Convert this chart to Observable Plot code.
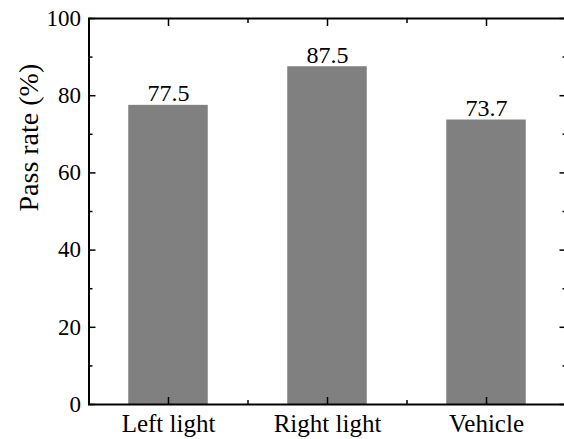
<!DOCTYPE html>
<html>
<head>
<meta charset="utf-8">
<script src="https://cdn.jsdelivr.net/npm/d3@7"></script>
<script src="https://cdn.jsdelivr.net/npm/@observablehq/plot@0.6"></script>
<style>
  html, body { margin: 0; padding: 0; background: #fff; overflow: hidden; }
  #chart svg, #chart svg text { font-family: "Liberation Serif", Tinos, "DejaVu Serif", "Noto Serif", serif !important; }
</style>
</head>
<body>
<div id="chart"></div>
<script>
const categories = ["Left light", "Right light", "Vehicle"];
const passRates = [77.5, 87.5, 73.7];
const yTicks = [0, 20, 40, 60, 80, 100];
const yMinorTicks = [10, 30, 50, 70, 90];
const xMajorTicks = [0, 1, 2];
const xMinorTicks = [0.5, 1.5];
const yLabel = "Pass rate (%)";

const data = categories.map((c, i) => ({i, category: c, value: passRates[i]}));
const font = "Liberation Serif, Tinos, DejaVu Serif, serif";

const chart = Plot.plot({
  width: 564,
  height: 439,
  marginLeft: 88.5,
  marginRight: -1.5,
  marginTop: 18,
  marginBottom: 35,
  style: {background: "white", color: "black", overflow: "hidden"},
  x: {domain: [-0.5, 2.5], label: null},
  y: {domain: [0, 100], label: null},
  marks: [
    Plot.rectY(data, {x1: d => d.i - 0.25, x2: d => d.i + 0.25, y: "value", fill: "#808080"}),
    Plot.text(data, {x: "i", y: "value", text: d => d.value.toFixed(1), dy: -4, lineAnchor: "bottom", fontSize: 24, fontFamily: font, fill: "black"}),
    // left axis
    Plot.axisY({anchor: "left", ticks: yTicks, tickSize: -7, text: null, strokeWidth: 1.5, label: null}),
    Plot.axisY({anchor: "left", ticks: yMinorTicks, tickSize: -4, text: null, strokeWidth: 1.5, label: null}),
    Plot.axisY({anchor: "left", ticks: yTicks, tickSize: 0, tickPadding: 8, fontSize: 23, fontFamily: font, label: null}),
    // right axis
    Plot.axisY({anchor: "right", ticks: yTicks, tickSize: -7, text: null, strokeWidth: 1.5, label: null}),
    Plot.axisY({anchor: "right", ticks: yMinorTicks, tickSize: -4, text: null, strokeWidth: 1.5, label: null}),
    // bottom axis
    Plot.axisX({anchor: "bottom", ticks: xMajorTicks, tickSize: -7, text: null, strokeWidth: 1.5, label: null}),
    Plot.axisX({anchor: "bottom", ticks: xMinorTicks, tickSize: -4, text: null, strokeWidth: 1.5, label: null}),
    Plot.axisX({anchor: "bottom", ticks: xMajorTicks, tickSize: 0, tickPadding: 10, tickFormat: i => categories[i], fontSize: 25, fontFamily: font, label: null}),
    // top axis
    Plot.axisX({anchor: "top", ticks: xMajorTicks, tickSize: -7, text: null, strokeWidth: 1.5, label: null}),
    Plot.axisX({anchor: "top", ticks: xMinorTicks, tickSize: -4, text: null, strokeWidth: 1.5, label: null}),
    Plot.frame({stroke: "black", strokeWidth: 2}),
    Plot.text([yLabel], {frameAnchor: "left", rotate: -90, dx: -60, text: d => d, fontSize: 28, fontFamily: font, fill: "black"})
  ]
});
document.getElementById("chart").appendChild(chart);
</script>
</body>
</html>
